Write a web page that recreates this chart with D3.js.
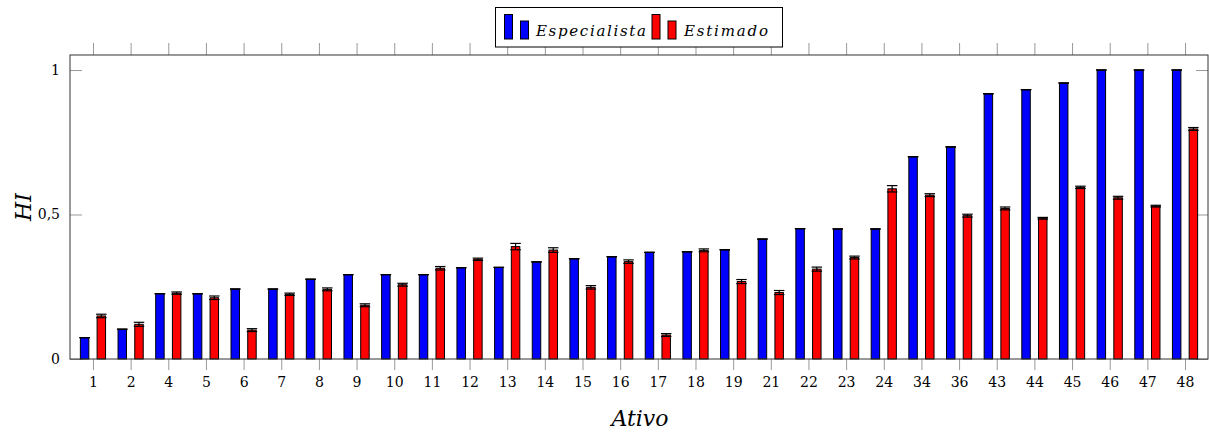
<!DOCTYPE html>
<html>
<head>
	<meta charset="utf-8">
	<title>HI por Ativo</title>
	<script src="https://d3js.org/d3.v7.min.js"></script>
	<style type="text/css">
		*
		{
			margin:0;
			padding:0;
		}
		body
		{
			background:#fff;
		}
		svg text
		{
			font-family: "DejaVu Serif", serif;
		}
		.tick-label
		{
			font-size: 14px;
			fill:#000;
		}
		.axis-title
		{
			font-style: italic;
			font-size: 22px;
		}
	</style>
</head>
<body>
	<div id="chart"></div>
	<script>
		// ativos (x axis categories)
		const ativos = ["1","2","4","5","6","7","8","9","10","11","12","13","14","15","16","17","18","19","21","22","23","24","34","36","43","44","45","46","47","48"];

		// HI dado pelo especialista
		const especialista = [0.074,0.103,0.226,0.226,0.242,0.242,0.276,0.292,0.292,0.292,0.316,0.317,0.336,0.347,0.354,0.369,0.371,0.378,0.415,0.451,0.450,0.450,0.700,0.734,0.918,0.932,0.955,1.0,1.0,1.0];

		// HI estimado e erro
		const estimado = [0.149,0.120,0.228,0.212,0.100,0.224,0.241,0.186,0.257,0.314,0.345,0.389,0.377,0.248,0.337,0.083,0.376,0.268,0.230,0.311,0.351,0.589,0.567,0.496,0.521,0.487,0.594,0.558,0.529,0.796];
		const erroEstimado = [0.006,0.007,0.004,0.006,0.005,0.004,0.005,0.005,0.005,0.006,0.004,0.011,0.008,0.006,0.006,0.005,0.005,0.007,0.007,0.007,0.005,0.011,0.005,0.005,0.005,0.003,0.004,0.005,0.003,0.005];

		const yTicks = [0, 0.5, 1];
		const yTickLabels = ["0", "0,5", "1"];

		const width = 1209;
		const height = 432;
		const mLeft = 70, mRight = 1208, mTop = 55, mBottom = 359;

		const svg = d3.select("#chart").append("svg")
			.attr("width", width)
			.attr("height", height);

		const xScale = d3.scalePoint().domain(ativos).range([mLeft, mRight]).padding(0.61);
		const yScale = d3.scaleLinear().domain([0, 1.052]).range([mBottom, mTop]);
		const step = xScale.step();
		const barW = step * 0.225;
		const off = step * 0.222;

		// x ticks (outside, bottom and top)
		svg.append("g")
			.attr("transform", "translate(0," + mBottom + ")")
			.call(d3.axisBottom(xScale).tickSize(11).tickPadding(7))
			.call(g => g.select(".domain").remove())
			.call(g => g.selectAll("line").attr("stroke", "#999"))
			.call(g => g.selectAll("text").attr("class", "tick-label"))
			.attr("font-family", null).attr("font-size", null);

		svg.append("g")
			.attr("transform", "translate(0," + mTop + ")")
			.call(d3.axisTop(xScale).tickSize(12).tickFormat(""))
			.call(g => g.select(".domain").remove())
			.call(g => g.selectAll("line").attr("stroke", "#999"));

		// y ticks (inside, left and right)
		svg.append("g")
			.attr("transform", "translate(" + mLeft + ",0)")
			.call(d3.axisLeft(yScale).tickValues(yTicks).tickSize(-12).tickPadding(10).tickFormat((d, i) => yTickLabels[i]))
			.call(g => g.select(".domain").remove())
			.call(g => g.selectAll("line").attr("stroke", "#999"))
			.call(g => g.selectAll("text").attr("class", "tick-label"))
			.attr("font-family", null).attr("font-size", null);

		svg.append("g")
			.attr("transform", "translate(" + mRight + ",0)")
			.call(d3.axisRight(yScale).tickValues(yTicks).tickSize(-12).tickFormat(""))
			.call(g => g.select(".domain").remove())
			.call(g => g.selectAll("line").attr("stroke", "#999"));

		// bars
		const series = [
			{ name: "Especialista", values: especialista, errors: ativos.map(() => 0), color: "#0000ff", dx: -off },
			{ name: "Estimado", values: estimado, errors: erroEstimado, color: "#ff0000", dx: off }
		];

		series.forEach(s => {
			const g = svg.append("g");
			g.selectAll("rect")
				.data(s.values)
				.enter()
				.append("rect")
				.attr("x", (d, i) => xScale(ativos[i]) + s.dx - barW / 2)
				.attr("y", d => yScale(d))
				.attr("width", barW)
				.attr("height", d => yScale(0) - yScale(d))
				.attr("fill", s.color)
				.attr("stroke", "#000")
				.attr("stroke-width", 1);

			// error bars
			const eb = g.selectAll(".err")
				.data(s.values)
				.enter()
				.append("g")
				.attr("class", "err")
				.attr("stroke", "#000")
				.attr("stroke-width", 1.2);
			eb.append("line")
				.attr("x1", (d, i) => xScale(ativos[i]) + s.dx)
				.attr("x2", (d, i) => xScale(ativos[i]) + s.dx)
				.attr("y1", (d, i) => yScale(d - s.errors[i]))
				.attr("y2", (d, i) => yScale(d + s.errors[i]));
			[-1, 1].forEach(sign => {
				eb.append("line")
					.attr("x1", (d, i) => xScale(ativos[i]) + s.dx - barW / 2 - 1)
					.attr("x2", (d, i) => xScale(ativos[i]) + s.dx + barW / 2 + 1)
					.attr("y1", (d, i) => yScale(d + sign * s.errors[i]))
					.attr("y2", (d, i) => yScale(d + sign * s.errors[i]));
			});
		});

		// frame
		svg.append("rect")
			.attr("x", mLeft)
			.attr("y", mTop)
			.attr("width", mRight - mLeft)
			.attr("height", mBottom - mTop)
			.attr("fill", "none")
			.attr("stroke", "#333")
			.attr("stroke-width", 1);

		// axis titles
		svg.append("text")
			.attr("class", "axis-title")
			.attr("x", 640)
			.attr("y", 426)
			.attr("text-anchor", "middle")
			.text("Ativo");

		svg.append("text")
			.attr("class", "axis-title")
			.attr("transform", "translate(31,207) rotate(-90)")
			.attr("text-anchor", "middle")
			.text("HI");

		// legend
		const legend = svg.append("g");
		legend.append("rect")
			.attr("x", 495.5).attr("y", 7.5)
			.attr("width", 287).attr("height", 39.5)
			.attr("fill", "#fff")
			.attr("stroke", "#000");

		const legendItems = [
			{ label: series[0].name, color: series[0].color, x: 504.5, tx: 536, tw: 110 },
			{ label: series[1].name, color: series[1].color, x: 652, tx: 684, tw: 84 }
		];
		legendItems.forEach(it => {
			legend.append("rect").attr("x", it.x).attr("y", 14.5).attr("width", 8).attr("height", 24.5)
				.attr("fill", it.color).attr("stroke", "#000");
			legend.append("rect").attr("x", it.x + 16).attr("y", 21).attr("width", 8).attr("height", 18)
				.attr("fill", it.color).attr("stroke", "#000");
			legend.append("text")
				.attr("x", it.tx).attr("y", 36)
				.attr("font-style", "italic")
				.attr("font-size", "15px")
				.attr("textLength", it.tw)
				.attr("lengthAdjust", "spacing")
				.text(it.label);
		});
	</script>
</body>
</html>
